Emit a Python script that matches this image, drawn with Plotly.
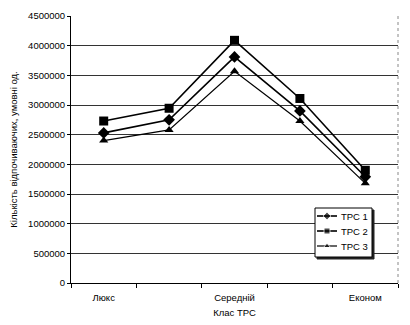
import plotly.graph_objects as go

# Hotel class categories (only every second one is labelled on the axis)
positions = [0, 1, 2, 3, 4]
label_positions = [0, 2, 4]
label_texts = ["Люкс", "Середній", "Економ"]

# Number of guests, conventional units
trc1 = [2530000, 2750000, 3810000, 2900000, 1790000]
trc2 = [2730000, 2945000, 4090000, 3110000, 1900000]
trc3 = [2400000, 2580000, 3570000, 2730000, 1680000]

names = ["ТРС 1", "ТРС 2", "ТРС 3"]
symbols = ["diamond", "square", "triangle-up"]
marker_sizes = [9, 9, 8]
line_widths = [1.6, 1.6, 1.2]

font = "Liberation Sans, Arial, sans-serif"
fig = go.Figure()
for name, vals, sym, size, lw in zip(names, [trc1, trc2, trc3], symbols,
                                     marker_sizes, line_widths):
    fig.add_trace(go.Scatter(
        x=positions, y=vals, name=name, mode="lines+markers",
        line=dict(color="black", width=lw),
        marker=dict(symbol=sym, size=size, color="black"),
        showlegend=False,
    ))

# Compact boxed legend, laid out in plot-area pixels (plot area is 327 x 267 px)
PW, PH = 327.0, 267.0
box_x0, box_x1, box_y0, box_y1 = 244, 301, 26, 75
entry_y = [67, 52, 37]


def rect_path(x0, x1, y0, y1):
    return [x0, x1, x1, x0, x0], [y0, y0, y1, y1, y0]


# drop shadow, then the white legend frame
for off, fill, edge in [(2, "#222222", "#222222"), (0, "white", "black")]:
    xs, ys = rect_path(box_x0 + off, box_x1 + off, box_y0 - off, box_y1 - off)
    fig.add_trace(go.Scatter(
        x=xs, y=ys, xaxis="x2", yaxis="y2", mode="lines", fill="toself",
        fillcolor=fill, line=dict(color=edge, width=1),
        showlegend=False, hoverinfo="skip",
    ))

annotations = []
for name, sym, lw, ey in zip(names, symbols, line_widths, entry_y):
    fig.add_trace(go.Scatter(
        x=[box_x0 + 2, box_x0 + 12, box_x0 + 22], y=[ey, ey, ey],
        xaxis="x2", yaxis="y2", mode="lines+markers",
        line=dict(color="black", width=lw),
        marker=dict(symbol=sym, size=[0, 6, 0], color="black"),
        showlegend=False, hoverinfo="skip",
    ))
    annotations.append(dict(
        x=box_x0 + 24, y=ey, xref="x2", yref="y2", text=name,
        showarrow=False, xanchor="left", yanchor="middle",
        font=dict(family=font, size=9.5, color="black"),
    ))

fig.update_layout(
    width=410, height=325,
    margin=dict(l=71, r=12, t=16, b=42),
    paper_bgcolor="white", plot_bgcolor="white",
    font=dict(family=font, size=9.5, color="black"),
    showlegend=False,
    xaxis=dict(
        range=[-0.5, 4.5], tickvals=label_positions, ticktext=label_texts,
        ticks="", showgrid=False, zeroline=False, automargin=False,
        showline=True, linecolor="black", linewidth=1,
        minor=dict(ticks="outside", tick0=-0.5, dtick=1, ticklen=4,
                   tickcolor="black", showgrid=False),
        ticklabelstandoff=6,
        title=dict(text="Клас ТРС", font=dict(size=9.5), standoff=6),
        tickfont=dict(size=9.5),
    ),
    yaxis=dict(
        range=[0, 4500000], dtick=500000, tickformat="d", automargin=False,
        ticks="outside", ticklen=3, tickcolor="black",
        showgrid=True, gridcolor="#333333", gridwidth=1,
        zeroline=False, showline=True, linecolor="black", linewidth=1,
        title=dict(text="Кількість відпочиваючих, умовні од.",
                   font=dict(size=9.5), standoff=8),
        tickfont=dict(size=9.5),
    ),
    xaxis2=dict(overlaying="x", anchor="y2", range=[0, PW], visible=False,
                fixedrange=True),
    yaxis2=dict(overlaying="y", anchor="x2", range=[0, PH], visible=False,
                fixedrange=True),
    shapes=[
        dict(type="line", xref="paper", yref="paper", x0=1, x1=1, y0=0, y1=1,
             line=dict(color="#888888", width=1, dash="dot")),
    ],
    annotations=annotations,
)

fig.write_html("out.html")
